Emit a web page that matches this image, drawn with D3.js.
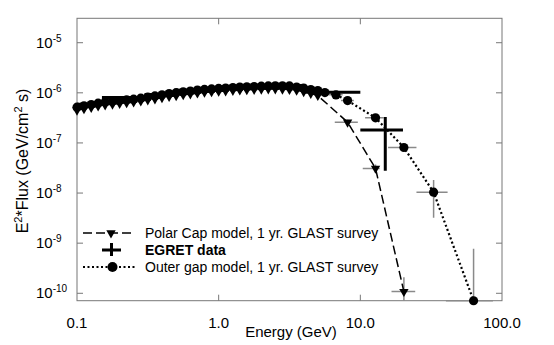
<!DOCTYPE html>
<html>
<head>
  <meta charset="utf-8">
  <title>E2 Flux spectrum</title>
  <style>
    body { margin: 0; background: #fff; }
    text { font-family: "Liberation Sans", Arial, sans-serif; fill: #000; }
  </style>
</head>
<body>
  <svg width="554" height="345"></svg>
  <script src="https://d3js.org/d3.v7.min.js"></script>
  <script>
  // Outer gap model, 1 yr GLAST survey (energy in GeV, E^2 flux)
  var ogE = [0.1, 0.112, 0.126, 0.141, 0.158, 0.178, 0.2, 0.224, 0.251, 0.282,
    0.316, 0.355, 0.398, 0.447, 0.501, 0.562, 0.631, 0.708, 0.794, 0.891,
    1.0, 1.12, 1.26, 1.41, 1.58, 1.78, 2.0, 2.24, 2.51, 2.82,
    3.16, 3.55, 3.98, 4.47, 5.01, 5.62, 6.73, 8.13, 12.8, 20.3, 32.9, 63.0];
  var ogF = [5.16e-7, 5.51e-7, 5.84e-7, 6.22e-7, 6.58e-7, 6.79e-7, 7.02e-7, 7.25e-7, 7.48e-7, 7.83e-7,
    8.24e-7, 8.67e-7, 9.16e-7, 9.64e-7, 1.005e-6, 1.047e-6, 1.087e-6, 1.132e-6, 1.169e-6, 1.197e-6,
    1.225e-6, 1.248e-6, 1.277e-6, 1.30e-6, 1.318e-6, 1.337e-6, 1.355e-6, 1.374e-6, 1.38e-6, 1.38e-6,
    1.374e-6, 1.306e-6, 1.248e-6, 1.164e-6, 1.11e-6, 1.01e-6, 9.1e-7, 7.0e-7, 3.17e-7, 8.1e-8, 1.04e-8, 7.1e-11];

  // Polar cap model, 1 yr GLAST survey
  var pcE = [0.1, 0.112, 0.126, 0.141, 0.158, 0.178, 0.2, 0.224, 0.251, 0.282,
    0.316, 0.355, 0.398, 0.447, 0.501, 0.562, 0.631, 0.708, 0.794, 0.891,
    1.0, 1.12, 1.26, 1.41, 1.58, 1.78, 2.0, 2.24, 2.51, 2.82,
    3.16, 3.55, 3.98, 4.47, 5.01, 8.13, 12.8, 20.3];
  var pcF = [4.49e-7, 4.79e-7, 5.08e-7, 5.41e-7, 5.72e-7, 5.91e-7, 6.11e-7, 6.31e-7, 6.51e-7, 6.81e-7,
    7.17e-7, 7.54e-7, 7.97e-7, 8.39e-7, 8.74e-7, 9.11e-7, 9.46e-7, 9.85e-7, 1.017e-6, 1.041e-6,
    1.066e-6, 1.086e-6, 1.111e-6, 1.131e-6, 1.147e-6, 1.163e-6, 1.179e-6, 1.19e-6, 1.19e-6, 1.18e-6,
    1.16e-6, 1.12e-6, 1.05e-6, 9.7e-7, 8.8e-7, 2.59e-7, 3.1e-8, 1.08e-10];

  // gray error bars of the survey points
  var ogBarE   = [5.62, 6.73, 8.13, 12.8, 20.3, 32.9, 63.0];
  var ogBarF   = [1.01e-6, 9.1e-7, 7.0e-7, 3.17e-7, 8.1e-8, 1.04e-8, 7.1e-11];
  var ogBarELo = [5.0, 6.0, 7.3, 10.8, 15.7, 24.9, 40.2];
  var ogBarEHi = [6.3, 7.5, 9.0, 14.6, 24.9, 41.3, 86.3];
  var ogBarFLo = [9.5e-7, 8.5e-7, 6.5e-7, 2.9e-7, 7.0e-8, 3.2e-9, 1e-12];
  var ogBarFHi = [1.07e-6, 9.7e-7, 7.5e-7, 3.45e-7, 9.4e-8, 1.83e-8, 7.7e-10];

  var pcBarE   = [8.13, 12.8, 20.3];
  var pcBarF   = [2.59e-7, 3.1e-8, 1.08e-10];
  var pcBarELo = [6.6, 10.4, 16.6];
  var pcBarEHi = [9.6, 13.7, 24.4];
  var pcBarFLo = [2.3e-7, 2.5e-8, 1e-12];
  var pcBarFHi = [2.9e-7, 3.7e-8, 2.1e-10];

  // EGRET data
  var egE   = [0.125, 0.225, 0.4, 0.75, 1.5, 3, 7, 15];
  var egELo = [0.1, 0.15, 0.3, 0.5, 1, 2, 4, 10];
  var egEHi = [0.15, 0.3, 0.5, 1, 2, 4, 10, 20];
  var egF   = [5.9e-7, 8.1e-7, 9.3e-7, 1.12e-6, 1.3e-6, 1.4e-6, 1.03e-6, 1.82e-7];
  var egFLo = [5.5e-7, 7.8e-7, 9.0e-7, 1.08e-6, 1.25e-6, 1.35e-6, 9.6e-7, 2.8e-8];
  var egFHi = [6.3e-7, 8.4e-7, 9.6e-7, 1.16e-6, 1.35e-6, 1.45e-6, 1.1e-6, 3.3e-7];

  var xTicks = [0.1, 1, 10, 100];
  var xTickLabels = ["0.1", "1.0", "10.0", "100.0"];
  var yTicks = [1e-10, 1e-9, 1e-8, 1e-7, 1e-6, 1e-5];
  var yTickExp = ["-10", "-9", "-8", "-7", "-6", "-5"];

  var legendLabels = ["Polar Cap model, 1 yr. GLAST survey", "EGRET data", "Outer gap model, 1 yr. GLAST survey"];

  var pL = 77, pR = 502, pT = 18.3, pB = 300.7;
  var svg = d3.select("svg");

  var x = d3.scaleLog().domain([0.1, 100]).range([pL, pR]);
  var y = d3.scaleLog().domain([Math.pow(10, -10.148), Math.pow(10, -4.513)]).range([pB, pT]);
  var yc = y.copy().clamp(true);

  // frame
  svg.append("rect")
    .attr("x", pL).attr("y", pT)
    .attr("width", pR - pL).attr("height", pB - pT)
    .attr("fill", "none").attr("stroke", "#777").attr("stroke-width", 1);

  // inside ticks
  var tickLen = 6;
  svg.selectAll(".ytick").data(yTicks).enter().append("path")
    .attr("d", function(d) {
      var yy = y(d);
      return "M" + pL + "," + yy + "h" + tickLen + "M" + pR + "," + yy + "h" + (-tickLen);
    })
    .attr("stroke", "#777");
  svg.selectAll(".xtick").data(xTicks.slice(1, 3)).enter().append("path")
    .attr("d", function(d) {
      var xx = x(d);
      return "M" + xx + "," + pB + "v" + (-tickLen) + "M" + xx + "," + pT + "v" + tickLen;
    })
    .attr("stroke", "#777");

  // tick labels
  svg.selectAll(".xlab").data(xTicks).enter().append("text")
    .attr("x", function(d) { return x(d); })
    .attr("y", 328)
    .attr("text-anchor", "middle")
    .style("font-size", "15px")
    .text(function(d, i) { return xTickLabels[i]; });

  var ylab = svg.selectAll(".ylab").data(yTicks).enter().append("text")
    .attr("x", 36)
    .attr("y", function(d) { return y(d) + 5; })
    .style("font-size", "15px");
  ylab.append("tspan").text("10");
  ylab.append("tspan").attr("dy", -6).style("font-size", "10px")
    .text(function(d, i) { return yTickExp[i]; });

  // axis titles
  svg.append("text")
    .attr("x", 291).attr("y", 337)
    .attr("text-anchor", "middle")
    .style("font-size", "15px")
    .text("Energy (GeV)");

  var yt = svg.append("text")
    .attr("transform", "translate(28,161) rotate(-90)")
    .attr("text-anchor", "middle")
    .style("font-size", "16px");
  yt.append("tspan").text("E");
  yt.append("tspan").attr("dy", -6).style("font-size", "11px").text("2");
  yt.append("tspan").attr("dy", 6).text("*Flux (GeV/cm");
  yt.append("tspan").attr("dy", -6).style("font-size", "11px").text("2");
  yt.append("tspan").attr("dy", 6).text(" s)");

  // gray error bars
  function bars(E, F, ELo, EHi, FLo, FHi) {
    var g = svg.append("g").attr("stroke", "#8a8a8a").attr("stroke-width", 1.5).attr("fill", "none");
    g.selectAll("path").data(E).enter().append("path")
      .attr("d", function(d, i) {
        return "M" + x(ELo[i]) + "," + y(F[i]) + "H" + x(EHi[i]) +
          "M" + x(d) + "," + yc(FLo[i]) + "V" + yc(FHi[i]);
      });
  }
  bars(ogBarE, ogBarF, ogBarELo, ogBarEHi, ogBarFLo, ogBarFHi);
  bars(pcBarE, pcBarF, pcBarELo, pcBarEHi, pcBarFLo, pcBarFHi);

  // model lines
  var line = d3.line()
    .x(function(d) { return x(d[0]); })
    .y(function(d) { return y(d[1]); });

  svg.append("path")
    .datum(pcE.map(function(e, i) { return [e, pcF[i]]; }))
    .attr("d", line)
    .attr("fill", "none").attr("stroke", "#000")
    .attr("stroke-width", 1.5).attr("stroke-dasharray", "9,4");

  svg.append("path")
    .datum(ogE.map(function(e, i) { return [e, ogF[i]]; }))
    .attr("d", line)
    .attr("fill", "none").attr("stroke", "#000")
    .attr("stroke-width", 2.2).attr("stroke-dasharray", "2,2.5");

  // markers
  var tri = d3.symbol().type(d3.symbolTriangle).size(38);
  svg.selectAll(".pc").data(pcE).enter().append("path")
    .attr("d", tri)
    .attr("transform", function(d, i) { return "translate(" + x(d) + "," + y(pcF[i]) + ") rotate(180)"; })
    .attr("fill", "#000");

  svg.selectAll(".og").data(ogE).enter().append("circle")
    .attr("cx", function(d) { return x(d); })
    .attr("cy", function(d, i) { return y(ogF[i]); })
    .attr("r", 4.6)
    .attr("fill", "#000");

  // EGRET crosses
  svg.append("g").attr("stroke", "#000").attr("stroke-width", 3).attr("fill", "none")
    .selectAll("path").data(egE).enter().append("path")
    .attr("d", function(d, i) {
      return "M" + x(egELo[i]) + "," + y(egF[i]) + "H" + x(egEHi[i]) +
        "M" + x(d) + "," + y(egFLo[i]) + "V" + y(egFHi[i]);
    });

  // legend
  var lg = svg.append("g");
  var ly = [233, 250, 267];
  lg.append("path").attr("d", "M83," + ly[0] + "H135")
    .attr("stroke", "#000").attr("stroke-width", 1.5).attr("stroke-dasharray", "9,4");
  lg.append("path").attr("d", tri)
    .attr("transform", "translate(111," + ly[0] + ") rotate(180)");
  lg.append("path").attr("d", "M102," + ly[1] + "H121M111.5," + (ly[1] - 7) + "V" + (ly[1] + 6))
    .attr("stroke", "#000").attr("stroke-width", 3);
  lg.append("path").attr("d", "M83," + ly[2] + "H136")
    .attr("stroke", "#000").attr("stroke-width", 2.2).attr("stroke-dasharray", "2,2.5");
  lg.append("circle").attr("cx", 112.5).attr("cy", ly[2]).attr("r", 5);

  lg.selectAll("text").data(legendLabels).enter().append("text")
    .attr("x", 145)
    .attr("y", function(d, i) { return ly[i] + 5; })
    .style("font-size", "14px")
    .style("font-weight", function(d, i) { return i === 1 ? "bold" : "normal"; })
    .text(function(d) { return d; });
  </script>
</body>
</html>
